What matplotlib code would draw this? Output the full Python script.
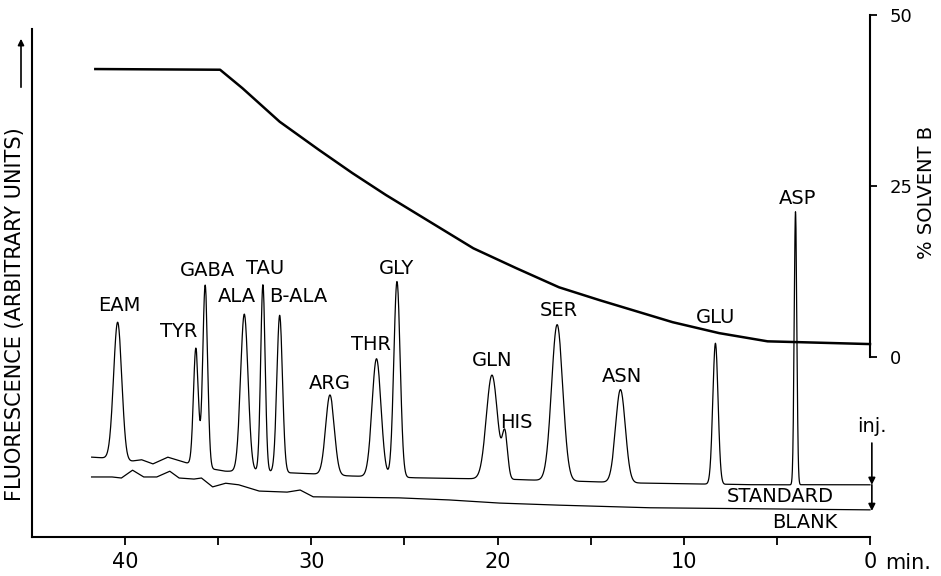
import numpy as np
import matplotlib
matplotlib.use("Agg")
import matplotlib.pyplot as plt

plt.rcParams['font.family'] = ['DejaVu Sans']

# peaks of the standard run (retention time in min, height above baseline, sigma in min)
peak_names = ["EAM", "TYR", "GABA", "ALA", "TAU", "B-ALA", "ARG", "THR", "GLY",
              "GLN", "HIS", "SER", "ASN", "GLU", "ASP"]
peak_times = [40.4, 36.2, 35.7, 33.6, 32.6, 31.7, 29.0, 26.5, 25.4,
              20.3, 19.6, 16.8, 13.4, 8.3, 4.0]
peak_heights = [26.4, 22.4, 34.9, 30.1, 35.8, 30.1, 15.3, 22.6, 37.5,
                19.9, 8.2, 29.9, 17.8, 27.0, 52.3]
peak_widths = [0.22, 0.13, 0.13, 0.2, 0.12, 0.15, 0.23, 0.24, 0.17,
               0.3, 0.14, 0.3, 0.26, 0.14, 0.07]

# baseline of the standard trace
std_base_t = [41.8, 40.9, 39.9, 39.1, 38.5, 37.7, 36.7, 35.3, 34.6, 33.0,
              31.3, 29.9, 28.0, 24.0, 20.0, 16.0, 12.0, 6.0, 0.0]
std_base_f = [15.3, 15.1, 14.4, 14.8, 14.0, 15.3, 14.2, 13.0, 12.6, 12.6,
              12.3, 12.1, 11.7, 11.3, 11.1, 10.7, 10.3, 10.0, 10.0]

# blank trace
blank_t = [41.8, 40.7, 40.2, 39.6, 39.0, 38.3, 37.6, 37.1, 36.3, 35.9, 35.3,
           34.6, 33.9, 32.8, 31.3, 30.6, 29.9, 25.3, 22.6, 19.9, 16.7, 11.8,
           5.9, 0.0]
blank_f = [11.5, 11.5, 11.3, 12.8, 11.5, 11.5, 12.6, 11.3, 11.1, 11.3, 9.6,
           10.3, 10.0, 8.8, 8.6, 9.0, 7.7, 7.5, 7.1, 6.5, 6.1, 5.6, 5.4, 5.2]

# gradient, % solvent B
grad_t = [41.6, 34.9, 33.7, 31.7, 29.6, 27.8, 26.0, 21.3, 19.0,
          16.7, 14.5, 10.6, 8.1, 5.5, 4.1, 0.0]
grad_b = [42.1, 42.0, 39.3, 34.4, 30.3, 26.9, 23.7, 15.9, 13.0,
          10.2, 8.3, 5.1, 3.5, 2.3, 2.2, 1.9]

# label placement (time, fluorescence)
label_pos = {"EAM": (40.3, 44.3), "TYR": (37.1, 39.3), "GABA": (35.6, 51.1),
             "ALA": (34.0, 46.0), "TAU": (32.5, 51.5), "B-ALA": (30.7, 46.0),
             "ARG": (29.0, 29.5), "THR": (26.8, 36.8), "GLY": (25.4, 51.5),
             "GLN": (20.3, 33.9), "HIS": (19.0, 22.0), "SER": (16.7, 43.3),
             "ASN": (13.3, 30.8), "GLU": (8.3, 42.0), "ASP": (3.9, 64.8)}

t = np.arange(0.0, 41.8, 0.005)
std = np.interp(t, std_base_t[::-1], std_base_f[::-1])
for t0, h, s in zip(peak_times, peak_heights, peak_widths):
    std = std + h * np.exp(-(t - t0) ** 2 / (2 * s ** 2))

fig = plt.figure(figsize=(9.41, 5.76), dpi=100)
ax = fig.add_axes([32 / 941, 39 / 576, 838 / 941, 522 / 576])
ax.plot(t, std, color="black", lw=0.9, clip_on=False)
ax.plot(blank_t, blank_f, color="black", lw=0.9, clip_on=False)
ax.set_xlim(45, 0)
ax.set_ylim(0, 100)

ax.spines["top"].set_visible(False)
ax.spines["right"].set_visible(False)
ax.spines["left"].set_bounds(0, 97.3)
ax.spines["left"].set_linewidth(1.5)
ax.spines["bottom"].set_linewidth(1.5)
ax.set_yticks([])
ax.set_xticks([40, 30, 20, 10, 0])
ax.set_xticklabels(["40", "30", "20", "10", "0"])
ax.set_xticks([35, 25, 15, 5], minor=True)
ax.tick_params(axis="x", which="both", direction="out", length=6, width=1.3,
               labelsize=15, pad=5)

for name in peak_names:
    x, y = label_pos[name]
    ax.text(x, y, name, ha="center", va="center", fontsize=14)

ax.text(-0.1, 21.1, "inj.", ha="center", va="center", fontsize=14)
ax.text(4.8, 7.7, "STANDARD", ha="center", va="center", fontsize=14)
ax.text(3.5, 2.7, "BLANK", ha="center", va="center", fontsize=14)
ax.annotate("", xy=(-0.1, 10.0), xytext=(-0.1, 18.0), annotation_clip=False,
            arrowprops=dict(arrowstyle="-|>", color="black", lw=1.2,
                            mutation_scale=10, shrinkA=0, shrinkB=0))
ax.annotate("", xy=(-0.1, 5.0), xytext=(-0.1, 10.0), annotation_clip=False,
            arrowprops=dict(arrowstyle="-|>", color="black", lw=1.2,
                            mutation_scale=10, shrinkA=0, shrinkB=0))

ax2 = ax.twinx()
ax2.plot(grad_t, grad_b, color="black", lw=1.8, clip_on=False)
ax2.set_ylim(-26.3, 50)
for side in ["top", "left", "bottom"]:
    ax2.spines[side].set_visible(False)
ax2.spines["right"].set_bounds(0, 50)
ax2.spines["right"].set_linewidth(1.5)
ax2.set_yticks([0, 25, 50])
ax2.tick_params(axis="y", direction="out", length=5, width=1.3,
                labelsize=13, pad=9)

fig.text(908 / 941, 1 - 563 / 576, "min.", ha="center", va="center", fontsize=15)
fig.text(15 / 941, 1 - 314 / 576, "FLUORESCENCE (ARBITRARY UNITS)", rotation=90,
         ha="center", va="center", fontsize=15)
fig.text(927 / 941, 1 - 192 / 576, "% SOLVENT B", rotation=90,
         ha="center", va="center", fontsize=14)
fig.patches.append(matplotlib.patches.FancyArrowPatch(
    (21 / 941, 1 - 90 / 576), (21 / 941, 1 - 36 / 576), transform=fig.transFigure,
    arrowstyle="-|>", mutation_scale=9, color="black", lw=1.2))

fig.savefig("out.png", dpi=100)
